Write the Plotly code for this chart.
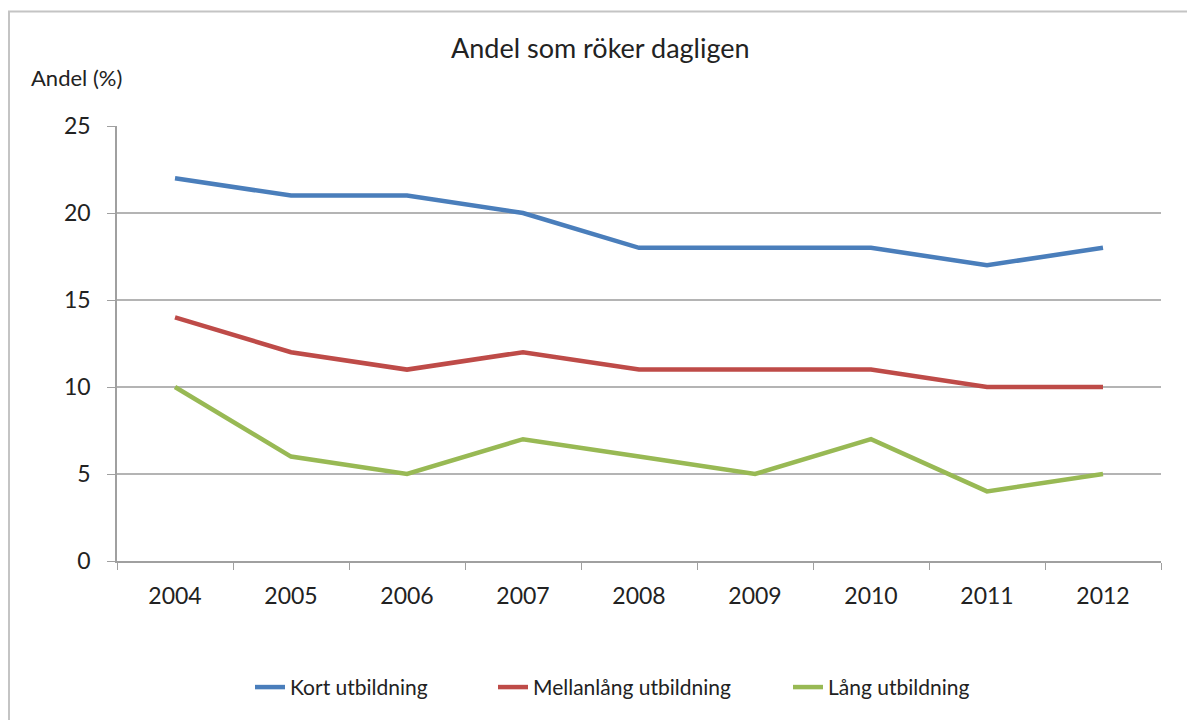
import plotly.graph_objects as go

years = ["2004", "2005", "2006", "2007", "2008", "2009", "2010", "2011", "2012"]
kort = [22, 21, 21, 20, 18, 18, 18, 17, 18]
mellan = [14, 12, 11, 12, 11, 11, 11, 10, 10]
lang = [10, 6, 5, 7, 6, 5, 7, 4, 5]

series_names = ["Kort utbildning", "Mellanlång utbildning", "Lång utbildning"]
colors = ["#4a7ebb", "#be4b48", "#98b954"]

W, H = 1187, 720
L, R, T, B = 117, 26, 126, 157
pw, ph = W - L - R, H - T - B

def px(x):
    return (x - L) / pw

def py(y):
    return (H - B - y) / ph

font = "Lato"
legend_ids = ["legend", "legend2", "legend3"]
legend_x = [250, 493, 788]

fig = go.Figure()
for name, vals, c, lg in zip(series_names, [kort, mellan, lang], colors, legend_ids):
    fig.add_trace(go.Scatter(x=years, y=vals, mode="lines", name=name, legend=lg,
                             line=dict(color=c, width=4.5)))

legend_common = dict(orientation="h", yanchor="middle", xanchor="left",
                     font=dict(size=21), bgcolor="rgba(0,0,0,0)")

fig.update_layout(
    width=W, height=H,
    margin=dict(l=L, r=R, t=T, b=B),
    paper_bgcolor="white", plot_bgcolor="white",
    font=dict(family=font, size=23, color="#222222"),
    showlegend=True,
    legend=dict(x=px(legend_x[0]), y=py(690), **legend_common),
    legend2=dict(x=px(legend_x[1]), y=py(690), **legend_common),
    legend3=dict(x=px(legend_x[2]), y=py(690), **legend_common),
    xaxis=dict(type="category", range=[-0.5, 8.5], showgrid=False,
               showline=True, linecolor="#a0a0a0", linewidth=1.5,
               ticks="outside", tickson="boundaries", ticklen=7, tickcolor="#a0a0a0",
               tickfont=dict(size=23), ticklabelstandoff=14),
    yaxis=dict(range=[0, 25], dtick=5, showgrid=True, gridcolor="#b4b4b4", gridwidth=1.5,
               showline=True, linecolor="#a0a0a0", linewidth=1.5, zeroline=False,
               ticks="outside", ticklen=8, tickcolor="#a0a0a0", tickfont=dict(size=23),
               ticklabelstandoff=12),
    annotations=[
        dict(text="Andel som röker dagligen", x=px(600), y=py(47), xref="paper", yref="paper",
             showarrow=False, xanchor="center", yanchor="middle", font=dict(size=27)),
        dict(text="Andel (%)", x=px(29), y=py(77), xref="paper", yref="paper",
             showarrow=False, xanchor="left", yanchor="middle", font=dict(size=22)),
    ],
    shapes=[
        dict(type="rect", xref="paper", yref="paper", x0=px(9), x1=px(1200), y0=py(740), y1=py(11),
             line=dict(color="#c4c4c4", width=2), fillcolor="rgba(0,0,0,0)", layer="below"),
    ],
)

fig.write_html("out.html", config={"displayModeBar": False},
               post_script="document.body.style.margin='0';document.body.style.overflow='hidden';")
